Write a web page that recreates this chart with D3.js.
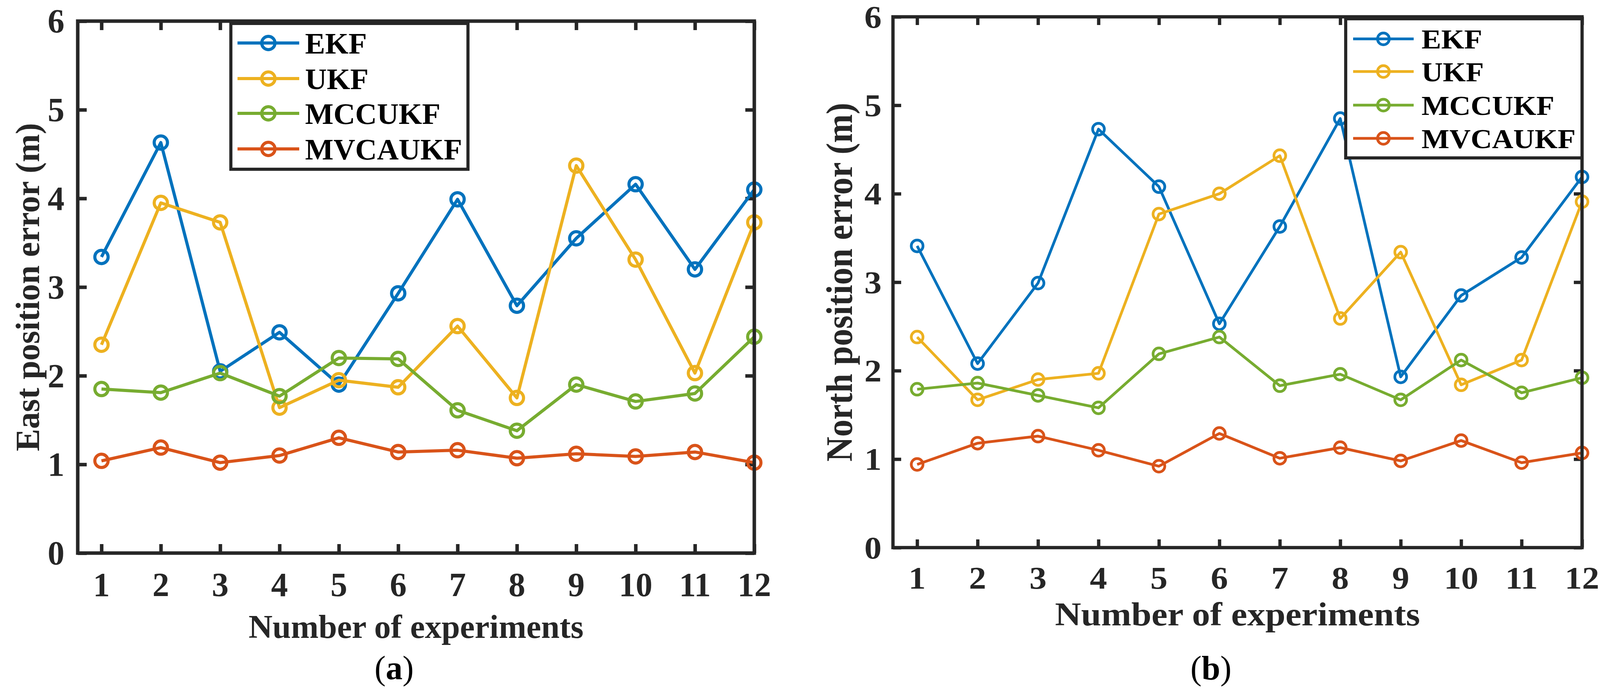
<!DOCTYPE html>
<html>
<head>
<meta charset="utf-8">
<script src="https://cdn.jsdelivr.net/npm/d3@7"></script>
<style>
  html, body { margin: 0; padding: 0; background: #fff; }
  svg { display: block; }
</style>
</head>
<body>
<div id="chart"></div>
<script>
// experiments on the x axis, error values
const experiments = [1, 2, 3, 4, 5, 6, 7, 8, 9, 10, 11, 12]
const yTicks = [0, 1, 2, 3, 4, 5, 6]
const methods = ['EKF', 'UKF', 'MCCUKF', 'MVCAUKF']
const colors = ['#0072BD', '#EDB120', '#77AC30', '#D95319']

// (a) east position error (m)
const eastEKF = [3.34, 4.63, 2.05, 2.49, 1.90, 2.93, 3.99, 2.79, 3.55, 4.16, 3.20, 4.10]
const eastUKF = [2.35, 3.95, 3.73, 1.64, 1.95, 1.87, 2.56, 1.75, 4.37, 3.31, 2.03, 3.73]
const eastMCCUKF = [1.85, 1.81, 2.03, 1.77, 2.20, 2.19, 1.61, 1.38, 1.90, 1.71, 1.80, 2.44]
const eastMVCAUKF = [1.04, 1.19, 1.02, 1.10, 1.30, 1.14, 1.16, 1.07, 1.12, 1.09, 1.14, 1.02]

// (b) north position error (m)
const northEKF = [3.41, 2.08, 2.99, 4.73, 4.08, 2.53, 3.63, 4.85, 1.93, 2.85, 3.28, 4.19]
const northUKF = [2.38, 1.67, 1.90, 1.97, 3.77, 4.00, 4.43, 2.59, 3.34, 1.84, 2.12, 3.91]
const northMCCUKF = [1.79, 1.86, 1.72, 1.58, 2.19, 2.38, 1.83, 1.96, 1.67, 2.12, 1.75, 1.92]
const northMVCAUKF = [0.94, 1.18, 1.26, 1.10, 0.92, 1.29, 1.01, 1.13, 0.98, 1.21, 0.96, 1.07]

const width = 4109
const height = 1773
const ink = '#262626'

// layout of the two panels (b is a bit wider in its text)
const panels = [
  {
    series: [eastEKF, eastUKF, eastMCCUKF, eastMVCAUKF],
    yLabel: 'East position error (m)', caption: 'a',
    left: 199, right: 1931, top: 54, bottom: 1415,
    tickLen: 23, axisW: 9, tickFs: 86, yTickX: 165, xTickBase: 1525,
    xLabBase: 1632, xLabFs: 85, yLabX: 100, yLabFs: 86, sx: 1,
    r: 17, lineW: 8, captionX: 1009,
    legend: {x0: 591, y0: 60, x1: 1198, y1: 433, rows: [110, 201, 290, 381],
      lx0: 608, lx1: 766, tx: 781, fs: 77, sx: 1}
  },
  {
    series: [northEKF, northUKF, northMCCUKF, northMVCAUKF],
    yLabel: 'North position error (m)', caption: 'b',
    left: 2286, right: 4050, top: 43, bottom: 1401,
    tickLen: 21, axisW: 8.5, tickFs: 81, yTickX: 2257, xTickBase: 1506,
    xLabBase: 1600, xLabFs: 85, yLabX: 2181, yLabFs: 88, sx: 1.09,
    r: 15, lineW: 7, captionX: 3100,
    legend: {x0: 3445, y0: 48, x1: 4050, y1: 404, rows: [99.5, 183, 269, 354],
      lx0: 3464, lx1: 3619, tx: 3639, fs: 70, sx: 1.08}
  }
]

const svg = d3.create('svg')
  .attr('width', width)
  .attr('height', height)
  .attr('viewBox', [0, 0, width, height])
  .style('font-family', '"Liberation Serif", "Times New Roman", serif')

svg.append('rect').attr('width', width).attr('height', height).attr('fill', '#fff')

panels.forEach(p => {
  const x = d3.scaleLinear().domain([0.6, 12]).range([p.left, p.right])
  const y = d3.scaleLinear().domain([0, 6]).range([p.bottom, p.top])
  const g = svg.append('g')

  // inward ticks on all four sides, labels placed by hand below
  const tickStyle = sel => {
    sel.select('.domain').remove()
    sel.selectAll('.tick line').attr('stroke', ink).attr('stroke-width', p.axisW)
    sel.selectAll('.tick text').remove()
  }
  g.append('g').attr('transform', `translate(0,${p.bottom})`)
    .call(d3.axisBottom(x).tickValues(experiments).tickSize(-p.tickLen)).call(tickStyle)
  g.append('g').attr('transform', `translate(0,${p.top})`)
    .call(d3.axisTop(x).tickValues(experiments).tickSize(-p.tickLen)).call(tickStyle)
  g.append('g').attr('transform', `translate(${p.left},0)`)
    .call(d3.axisLeft(y).tickValues(yTicks).tickSize(-p.tickLen)).call(tickStyle)
  g.append('g').attr('transform', `translate(${p.right},0)`)
    .call(d3.axisRight(y).tickValues(yTicks).tickSize(-p.tickLen)).call(tickStyle)

  // tick labels
  g.append('g')
    .attr('font-size', p.tickFs).attr('font-weight', 'bold').attr('fill', ink)
    .attr('text-anchor', 'middle')
    .selectAll('text').data(experiments).join('text')
    .attr('transform', d => `translate(${x(d)},${p.xTickBase}) scale(${p.sx},1)`)
    .text(d => d)
  g.append('g')
    .attr('font-size', p.tickFs).attr('font-weight', 'bold').attr('fill', ink)
    .attr('text-anchor', 'end')
    .selectAll('text').data(yTicks).join('text')
    .attr('transform', d => `translate(${p.yTickX},${y(d)}) scale(${p.sx},1)`)
    .attr('dy', '0.34em')
    .text(d => d)

  // axis titles
  g.append('text')
    .attr('transform', `translate(${(p.left + p.right) / 2},${p.xLabBase}) scale(${p.sx},1)`)
    .attr('text-anchor', 'middle').attr('font-size', p.xLabFs)
    .attr('font-weight', 'bold').attr('fill', ink)
    .text('Number of experiments')
  g.append('text')
    .attr('transform', `translate(${p.yLabX},${(p.top + p.bottom) / 2}) scale(${p.sx},1) rotate(-90)`)
    .attr('text-anchor', 'middle').attr('font-size', p.yLabFs)
    .attr('font-weight', 'bold').attr('fill', ink)
    .text(p.yLabel)

  // lines with open circle markers
  const line = d3.line().x((d, i) => x(experiments[i])).y(d => y(d))
  p.series.forEach((values, k) => {
    const s = g.append('g')
    s.append('path')
      .attr('d', line(values))
      .attr('fill', 'none')
      .attr('stroke', colors[k])
      .attr('stroke-width', p.lineW)
      .attr('stroke-linejoin', 'round')
    s.selectAll('circle').data(values).join('circle')
      .attr('cx', (d, i) => x(experiments[i]))
      .attr('cy', d => y(d))
      .attr('r', p.r)
      .attr('fill', 'none')
      .attr('stroke', colors[k])
      .attr('stroke-width', p.lineW)
  })

  // axes box
  g.append('rect')
    .attr('x', p.left).attr('y', p.top)
    .attr('width', p.right - p.left).attr('height', p.bottom - p.top)
    .attr('fill', 'none').attr('stroke', ink).attr('stroke-width', p.axisW)

  // legend
  const L = p.legend
  const lg = g.append('g')
  lg.append('rect')
    .attr('x', L.x0).attr('y', L.y0)
    .attr('width', L.x1 - L.x0).attr('height', L.y1 - L.y0)
    .attr('fill', '#fff').attr('stroke', ink).attr('stroke-width', 8)
  methods.forEach((m, k) => {
    const ry = L.rows[k]
    lg.append('line')
      .attr('x1', L.lx0).attr('x2', L.lx1).attr('y1', ry).attr('y2', ry)
      .attr('stroke', colors[k]).attr('stroke-width', p.lineW)
    lg.append('circle')
      .attr('cx', (L.lx0 + L.lx1) / 2).attr('cy', ry).attr('r', p.r)
      .attr('fill', 'none').attr('stroke', colors[k]).attr('stroke-width', p.lineW)
    lg.append('text')
      .attr('transform', `translate(${L.tx},${ry}) scale(${L.sx},1)`)
      .attr('dy', '0.35em')
      .attr('font-size', L.fs).attr('font-weight', 'bold').attr('fill', '#000')
      .text(m)
  })

  // caption (a) / (b)
  const cap = svg.append('text')
    .attr('x', p.captionX).attr('y', 1738)
    .attr('text-anchor', 'middle').attr('font-size', 86).attr('fill', '#000')
  cap.append('tspan').text('(')
  cap.append('tspan').attr('font-weight', 'bold').text(p.caption)
  cap.append('tspan').text(')')
})

document.getElementById('chart').appendChild(svg.node())
</script>
</body>
</html>
